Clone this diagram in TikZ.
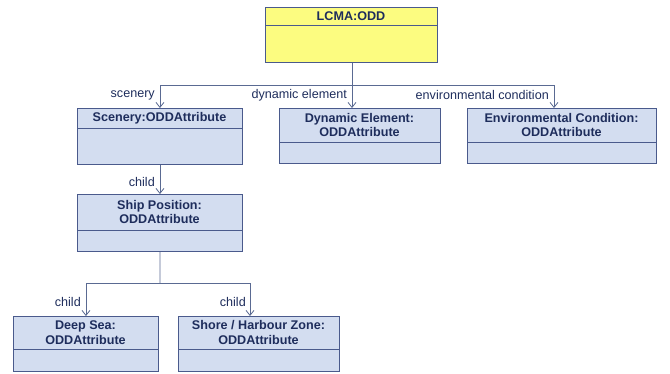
\documentclass[tikz,border=0pt]{standalone}
\usepackage{fontspec}
\setmainfont{Liberation Sans}
\usetikzlibrary{arrows.meta}
\definecolor{boxfill}{HTML}{D3DDF0}
\definecolor{yfill}{HTML}{FCFC80}
\definecolor{edge}{HTML}{4A5A8C}
\definecolor{ink}{HTML}{1E2D5C}
\definecolor{wire}{HTML}{5A6A92}
\tikzset{
  umlbox/.style={draw=edge, line width=0.9pt, fill=boxfill, anchor=north west, inner sep=0pt},
  ybox/.style={umlbox, fill=yfill},
  head/.style={font=\fontsize{12.6}{14.6}\selectfont\bfseries, text=ink, align=center, inner sep=0pt},
  lbl/.style={font=\fontsize{12.6}{14.6}\selectfont, text=ink, anchor=east, inner sep=0pt},
  wireline/.style={draw=wire, line width=0.8pt},
  arr/.style={wireline, -{Straight Barb[length=5pt,width=8pt]}}
}
\newcommand{\umlnode}[8]{%
  % name, style, x1, y1, x2, y2, ysep, text
  \node[#2, minimum width=#5pt-#3pt, minimum height=#6pt-#4pt] (#1) at (#3,#4) {};
  \draw[draw=edge, line width=0.9pt] (#3,#7) -- (#5,#7);
  \node[head] (#1-t) at ({(#3+#5)/2},{(#4+#7)/2}) {#8};
}
\begin{document}
\begin{tikzpicture}[x=1pt,y=-1pt]
\useasboundingbox (0,0) rectangle (670,373);
\umlnode{odd}{ybox}{265}{7}{437}{62}{25}{LCMA:ODD}
\umlnode{sc}{umlbox}{77}{108}{242}{164}{128}{Scenery:ODDAttribute}
\umlnode{dyn}{umlbox}{279}{108}{440}{163}{142}{Dynamic Element:\\ODDAttribute}
\umlnode{env}{umlbox}{467}{108}{656}{163}{142}{Environmental Condition:\\ODDAttribute}
\umlnode{sp}{umlbox}{77}{194}{242}{251}{230}{Ship Position:\\ODDAttribute}
\umlnode{ds}{umlbox}{13}{316}{158}{371}{349}{Deep Sea:\\ODDAttribute}
\umlnode{sh}{umlbox}{178}{316}{339}{371}{349}{Shore / Harbour Zone:\\ODDAttribute}

\coordinate (j1) at (352,85);
\coordinate (dynin) at (352,108);
\coordinate (envin) at (554,108);
\coordinate (j2) at (160,283);
\coordinate (shin) at (250,316);

\draw[wireline] (odd.south -| j1) -- (j1);
\draw[arr] (j1) -| (sc.north);
\draw[arr] (j1) -- (dynin);
\draw[arr] (j1) -| (envin);
\draw[arr] (sc.south) -- (sp.north);
\draw[wireline] (sp.south) -- (j2);
\draw[arr] (j2) -| (ds.north);
\draw[arr] (j2) -| (shin);

\node[lbl] (l1) at (155,95) {scenery};
\node[lbl] (l2) at (347,95) {dynamic element};
\node[lbl] (l3) at (549,95) {environmental condition};
\node[lbl] (l4) at (155,182) {child};
\node[lbl] (l5) at (81,302) {child};
\node[lbl] (l6) at (246,302) {child};
\end{tikzpicture}
\end{document}
